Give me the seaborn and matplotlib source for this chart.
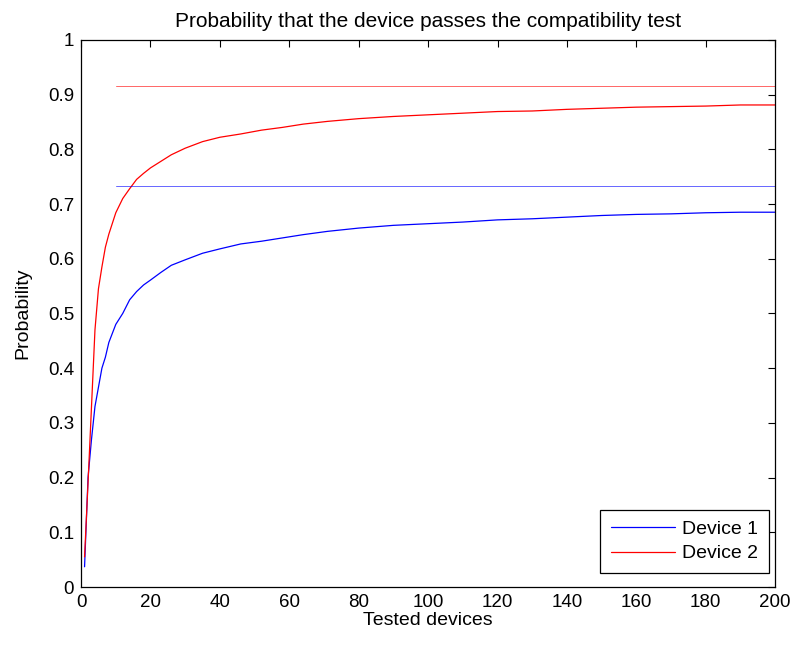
import matplotlib
matplotlib.use("Agg")
import matplotlib.pyplot as plt
import seaborn as sns
import pandas as pd

n_tested = [1, 2, 3, 4, 5, 6, 7, 8, 10, 12, 14, 16, 18, 20, 23, 26, 30, 35, 40, 46,
            52, 58, 64, 71, 80, 90, 100, 110, 120, 130, 140, 150, 160, 170, 180, 190, 200]
device1 = [0.037, 0.20, 0.27, 0.33, 0.365, 0.40, 0.42, 0.447, 0.48, 0.50, 0.525, 0.54,
           0.552, 0.561, 0.575, 0.588, 0.598, 0.610, 0.618, 0.627, 0.632, 0.638, 0.644,
           0.650, 0.656, 0.661, 0.664, 0.667, 0.671, 0.673, 0.676, 0.679, 0.681, 0.682,
           0.684, 0.685, 0.685]
device2 = [0.055, 0.19, 0.33, 0.47, 0.545, 0.585, 0.621, 0.645, 0.684, 0.71, 0.728, 0.745,
           0.756, 0.766, 0.778, 0.79, 0.802, 0.814, 0.822, 0.828, 0.835, 0.840, 0.846,
           0.851, 0.856, 0.860, 0.863, 0.866, 0.869, 0.870, 0.873, 0.875, 0.877, 0.878,
           0.879, 0.881, 0.881]
limit_x = [10, 200]
limit1 = 0.7336
limit2 = 0.9155
series_names = ["Device 1", "Device 2"]

sns.set_style("white")
plt.rcParams["font.family"] = ["Liberation Sans", "DejaVu Sans"]
plt.rcParams["text.color"] = "black"
plt.rcParams["axes.labelcolor"] = "black"

df = pd.DataFrame({
    "n": n_tested * 2,
    "p": device1 + device2,
    "series": [series_names[0]] * len(n_tested) + [series_names[1]] * len(n_tested),
})

fig = plt.figure(figsize=(7.95, 6.46), dpi=100)
ax = fig.add_axes([0.102, 0.0913, 0.873, 0.847])

sns.lineplot(data=df, x="n", y="p", hue="series", palette=["#0000ff", "#ff0000"],
             linewidth=0.9, ax=ax, legend=True)
sns.lineplot(x=limit_x, y=[limit1, limit1], color="#0000ff", linewidth=0.7, alpha=0.6, ax=ax)
sns.lineplot(x=limit_x, y=[limit2, limit2], color="#ff0000", linewidth=0.7, alpha=0.6, ax=ax)

ax.set_xlim(0, 200)
ax.set_ylim(0, 1)
ax.set_xticks(range(0, 201, 20))
ax.set_yticks([i / 10 for i in range(11)])
ax.set_yticklabels(["0", "0.1", "0.2", "0.3", "0.4", "0.5", "0.6", "0.7", "0.8", "0.9", "1"])
ax.tick_params(direction="in", top=True, right=True, length=5, width=0.8,
               labelsize=13.5, colors="black", labelcolor="black", pad=5)
for s in ax.spines.values():
    s.set_color("black")
    s.set_linewidth(0.9)

ax.set_title("Probability that the device passes the compatibility test", fontsize=15,
             pad=9, color="black")
ax.set_xlabel("Tested devices", fontsize=14, labelpad=1, color="black")
ax.set_ylabel("Probability", fontsize=14, labelpad=12, color="black")

handles, labels = ax.get_legend_handles_labels()
leg = ax.legend(handles[:2], labels[:2], loc="lower right", bbox_to_anchor=(0.9914, 0.0256),
                borderaxespad=0, fontsize=14, frameon=True, fancybox=False,
                edgecolor="black", framealpha=1, handlelength=3.3, handletextpad=0.4,
                borderpad=0.55, labelspacing=0.35, labelcolor="black")
leg.get_frame().set_linewidth(0.9)

fig.savefig("out.png", dpi=100)
